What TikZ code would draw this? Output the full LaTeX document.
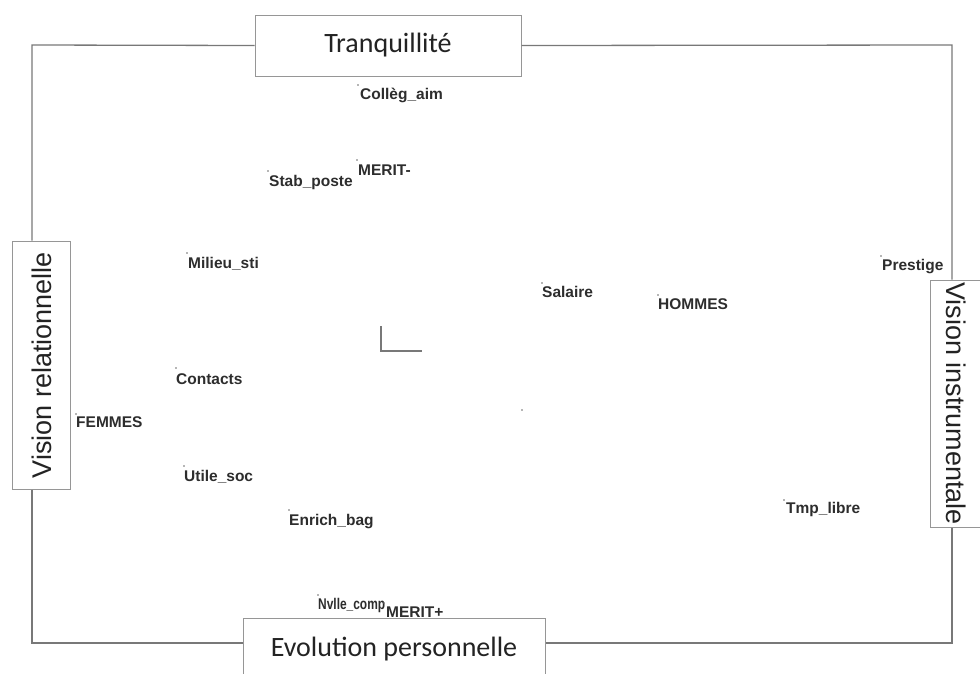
\documentclass[tikz,border=0pt]{standalone}
\usepackage{fontspec}
\setmainfont{Liberation Sans}
\newfontfamily\calibfont{Carlito}
\definecolor{framegray}{RGB}{120,120,120}
\definecolor{boxgray}{RGB}{150,150,150}
\definecolor{labelgray}{RGB}{45,45,45}
\definecolor{titlegray}{RGB}{35,35,35}

\begin{document}
\begin{tikzpicture}[x=1pt,y=1pt,yscale=-1,xscale=1,
  lbl/.style={anchor=base west,inner sep=0pt,text=labelgray,font=\fontsize{15.5}{16}\selectfont\bfseries},
  pt/.style={fill=labelgray!70},
  axisbox/.style={draw=boxgray,line width=1pt,fill=white,inner sep=0pt,text=titlegray},
  hbox/.style={axisbox,font=\calibfont\fontsize{28}{30}\selectfont},
  vbox/.style={axisbox,font=\fontsize{27}{30}\selectfont},
  frameline/.style={draw=framegray,line width=1.3pt}]
\clip (0,0) rectangle (980,673);
\fill[white] (0,0) rectangle (980,673);

% Corners of the frame
\coordinate (nw) at (32,45);
\coordinate (ne) at (952,45);
\coordinate (sw) at (32,643);
\coordinate (se) at (952,643);

% Axis boxes
\node [hbox,minimum width=266,minimum height=61] (tranq) at (388,45.5) {Tranquillit\'e};
\node [hbox,minimum width=302,minimum height=62] (evol) at (394,649) {Evolution personnelle};
\node [vbox,minimum width=248,minimum height=58,rotate=90] (relat) at (41.5,365) {Vision relationnelle};
\node [vbox,minimum width=247,minimum height=53,rotate=-90] (instr) at (956.5,403.5) {Vision instrumentale};

% Frame between the boxes
\draw [frameline] (tranq.west) -- (nw) -- (nw |- relat.east);
\draw [frameline] (nw |- relat.west) -- (sw) -- (sw -| evol.west);
\draw [frameline] (tranq.east) -- (ne) -- (ne |- instr.west);
\draw [frameline] (ne |- instr.east) -- (se) -- (se -| evol.east);

% Origin mark
\draw [draw=framegray,line width=1.3pt] (381,326) -- (381,351) -- (422,351);

% Points
\fill [pt] (358,85) circle (0.8);
\draw (360,99) node [lbl] (collegaim) {Coll\`eg\_aim};
\fill [pt] (268,171) circle (0.8);
\draw (269,186) node [lbl] (stabposte) {Stab\_poste};
\fill [pt] (357,160) circle (0.8);
\draw (358,175) node [lbl] (meritm) {MERIT-};
\fill [pt] (187,253) circle (0.8);
\draw (188,268) node [lbl] (milieusti) {Milieu\_sti};
\fill [pt] (542,283) circle (0.8);
\draw (542,297) node [lbl] (salaire) {Salaire};
\fill [pt] (658,295) circle (0.8);
\draw (658,309) node [lbl] (hommes) {HOMMES};
\fill [pt] (881,256) circle (0.8);
\draw (882,270) node [lbl] (prestige) {Prestige};
\fill [pt] (176,368) circle (0.8);
\draw (176,384) node [lbl] (contacts) {Contacts};
\fill [pt] (76,414) circle (0.8);
\draw (76,427) node [lbl] (femmes) {FEMMES};
\fill [pt] (522,410) circle (0.8);
\fill [pt] (184,466) circle (0.8);
\draw (184,481) node [lbl] (utilesoc) {Utile\_soc};
\fill [pt] (289,510) circle (0.8);
\draw (289,525) node [lbl] (enrichbag) {Enrich\_bag};
\fill [pt] (784,500) circle (0.8);
\draw (786,513) node [lbl] (tmplibre) {Tmp\_libre};
\fill [pt] (318,595) circle (0.8);
\draw (318,609) node [lbl] (nvllecomp) {\scalebox{0.77}[1]{Nvlle\_comp}};
\fill [pt] (384,603) circle (0.8);
\draw (386,617) node [lbl] (meritp) {MERIT+};

\end{tikzpicture}
\end{document}
